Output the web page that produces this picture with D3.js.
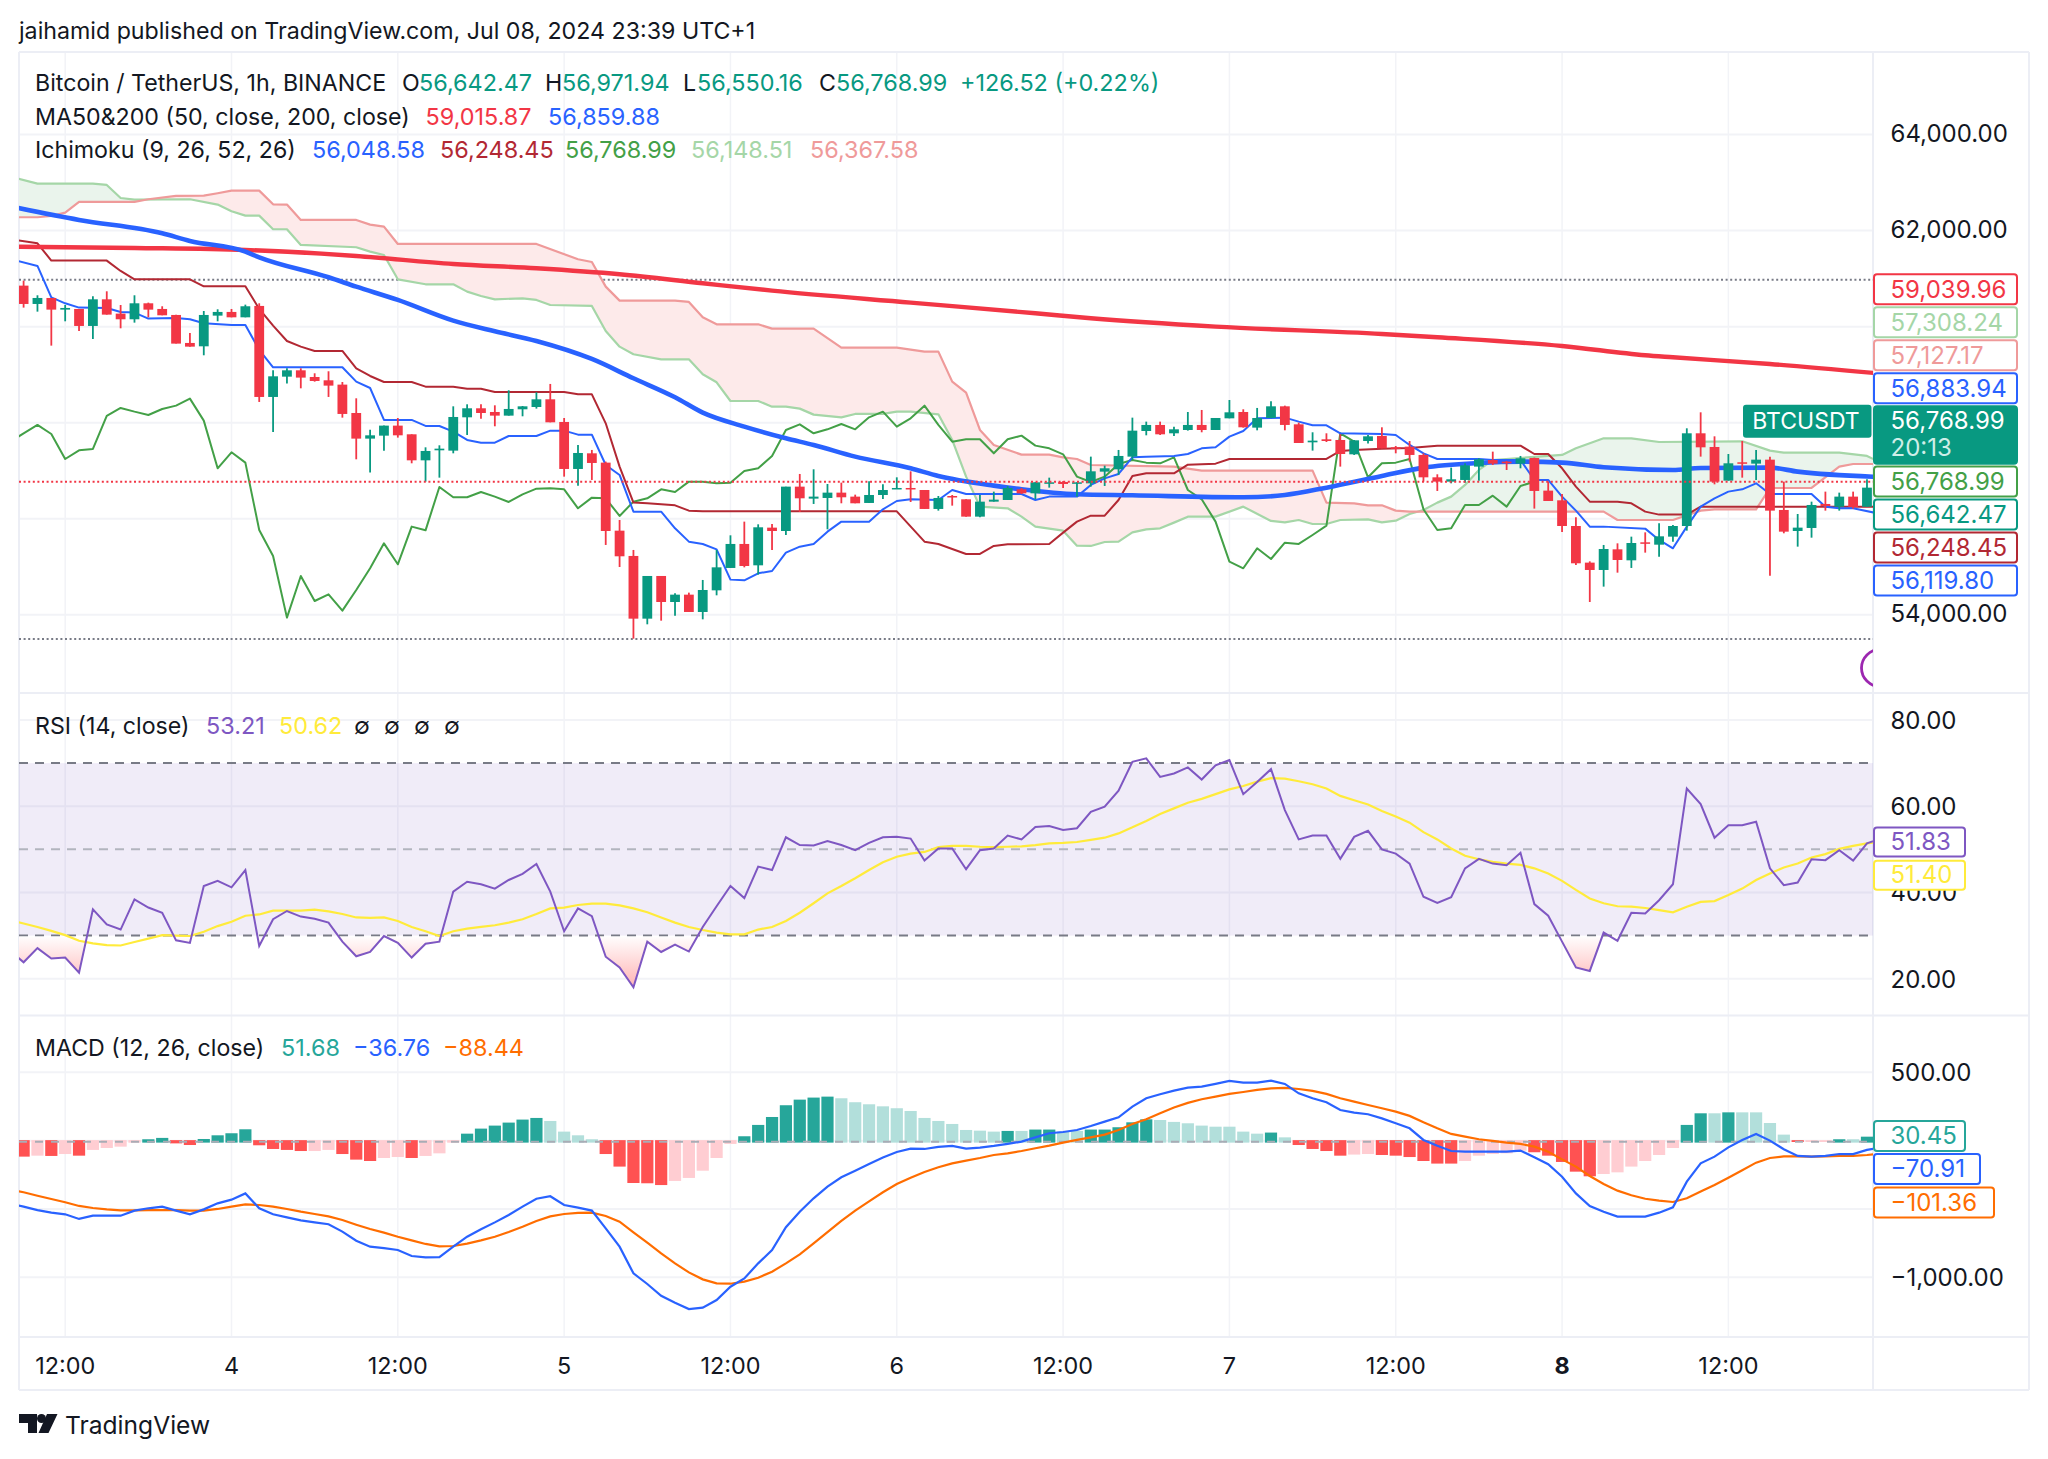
<!DOCTYPE html>
<html><head><meta charset="utf-8">
<script src="https://cdnjs.cloudflare.com/ajax/libs/d3/7.8.5/d3.min.js"></script>
<style>html,body{margin:0;padding:0;background:#fff}svg{display:block}text{font-family:Inter,"Noto Sans",sans-serif;fill:#131722}</style>
</head><body><svg id="c" width="2048" height="1459"></svg>
<script>
// ---------- candles (1h BTCUSDT), index 0 .. 133
const open=[60854,60472,60597,60354,60368,60014,60569,60271,60153,60486,
60368,60243,59660,59590,60229,60306,60194,60431,58535,58958,
59090,58951,58882,58792,58201,57667,57729,57938,57757,57215,
57424,57417,58111,58299,58222,58146,58278,58326,58486,58014,
57035,57361,57167,55750,55223,53917,54806,54264,54417,54056,
54507,54973,55473,55028,55813,55743,56667,56417,56431,56542,
56459,56327,56493,56618,56639,56597,56202,56472,56403,56042,
56354,56389,56611,56528,56736,56764,56736,56736,56979,57028,
57292,57826,57952,57778,57847,57952,57847,58090,58222,57896,
58097,58340,57965,57590,57653,57639,57340,57618,57722,57486,
57500,57327,56861,56771,56806,57084,57222,57188,57146,57264,
56584,56382,55847,55084,54931,55361,55132,55507,55458,55625,
55847,57778,57493,56792,57174,57146,57229,56181,55743,55806,
56306,56248,56459,56248];
const high=[60958,60653,60597,60451,60368,60632,60736,60451,60653,60500,
60424,60250,59868,60326,60361,60368,60458,60486,59090,59132,
59132,59028,59070,58847,58507,57854,57938,58097,57757,57486,
57528,58340,58382,58382,58361,58674,58347,58632,58806,58097,
57535,57431,57188,55972,55348,54806,54806,54445,54459,54723,
55348,55653,55938,55882,55889,56667,56931,57028,56722,56750,
56500,56778,56715,56861,56986,56597,56472,56493,56403,56493,
56563,56681,56639,56764,56854,56785,56757,57292,57104,57431,
58104,58021,58021,57917,58222,58264,58097,58472,58278,58306,
58445,58354,58000,57799,57778,57757,57639,57743,57903,57514,
57618,57361,56924,57063,57153,57257,57396,57202,57306,57271,
56771,56514,56028,55111,55452,55486,55625,55715,55903,55868,
57882,58215,57715,57347,57618,57431,57292,56771,56097,56354,
56563,56542,56563,56820];
const low=[60396,60312,59604,60111,59910,59743,60250,59965,60083,60194,
60236,59646,59583,59403,60111,60194,60194,58431,57806,58813,
58715,58854,58535,58104,57236,56959,57417,57688,57153,56771,
56854,57361,57743,58083,57924,58146,58132,58292,58007,56875,
56688,56806,55452,54993,53500,53799,53875,53979,54056,53903,
54403,54973,54986,54834,55348,55660,56139,56306,55778,56320,
56320,56327,56410,56618,56347,56202,56167,56271,56042,56028,
56354,56389,56514,56403,56646,56639,56459,56667,56681,56910,
57222,57736,57743,57722,57834,57799,57847,58090,57896,57840,
58090,57840,57576,57417,57597,57084,57327,57563,57465,57361,
57188,56771,56577,56736,56750,56792,57118,57014,57049,56209,
56368,55723,55035,54264,54584,54875,54973,55292,55208,55521,
55750,57292,56715,56792,56854,56806,54813,55695,55417,55604,
56167,56167,56209,56248];
const close=[60472,60597,60354,60389,60014,60569,60250,60153,60486,60354,
60236,59646,59583,60243,60306,60194,60424,58535,58965,59090,
58938,58868,58771,58181,57667,57736,57938,57736,57215,57410,
57458,58118,58299,58201,58146,58285,58340,58486,58007,57035,
57368,57160,55743,55216,53917,54806,54264,54417,54056,54514,
54986,55473,55014,55820,55743,56667,56424,56459,56542,56445,
56320,56493,56597,56639,56611,56202,56431,56452,56042,56354,
56396,56639,56528,56757,56757,56722,56757,56986,57049,57306,
57833,57952,57757,57861,57952,57847,58097,58215,57903,58097,
58340,57952,57576,57625,57618,57347,57632,57715,57465,57458,
57327,56861,56771,56820,57111,57236,57146,57153,57257,56577,
56368,55847,55070,54931,55368,55139,55493,55486,55632,55847,
57778,57486,56771,57153,57153,57229,56167,55729,55813,56285,
56264,56459,56243,56646];

// ---------- moving averages: vertices (bar index, price)
const ma50Bars=[-1,4,10,12,16,17,22,24,27,31,34,37,41,44,47,49,52,55,57,60,64,66,70,72,76,80,88,91,94,98,101,105,108,111,114,119,121,126,128,134];
const ma50=[62507,62222,61944,61785,61562,61444,61028,60833,60556,60125,59903,59701,59326,58924,58528,58208,57917,57674,57535,57292,57049,56889,56688,56611,56507,56486,56445,56493,56646,56889,57063,57160,57188,57167,57070,57014,57056,57063,56979,56868];
const ma200Bars=[-1,8,16,24,31,37,43,49,54,64,73,77,86,98,102,111,117,119,126,134];
const ma200=[61667,61639,61597,61472,61305,61215,61090,60903,60750,60500,60278,60174,60000,59847,59778,59597,59403,59361,59222,59021];

// ---------- Ichimoku
const tenkanBars=[-1,1,2,3,4,6,7,8,9,11,12,13,15,16,17,18,23,24,25,26,28,29,30,31,32,33,34,35,37,38,39,40,41,42,43,44,46,47,48,49,50,51,52,53,54,55,56,57,58,59,61,62,63,64,66,67,68,72,73,74,76,77,78,79,80,81,83,84,85,86,87,88,89,91,92,93,94,95,98,99,100,101,102,105,106,108,109,110,111,112,113,114,117,118,119,120,121,122,123,124,125,126,129,130,131,132,134];
const tenkan=[61410,61264,60611,60486,60396,60389,60306,60292,60167,60181,60153,60069,60035,60035,59514,59153,59153,58854,58722,58056,58056,57931,57931,57813,57639,57583,57583,57722,57722,57833,57833,57750,57750,57118,56910,56146,56146,55799,55521,55473,55361,54730,54716,54861,54910,55292,55417,55473,55729,55938,55938,56195,56368,56403,56389,56597,56514,56514,56389,56459,56459,56702,56840,56931,57278,57292,57306,57347,57465,57486,57708,57826,58090,58104,58021,57945,57945,57778,57764,57743,57535,57361,57243,57243,57222,57222,56806,56806,56459,56167,55834,55834,55792,55556,55382,55834,56250,56424,56563,56611,56736,56514,56514,56250,56216,56216,56097];
const kijunBars=[-1,1,2,6,7,8,12,13,16,17,18,19,20,21,23,24,25,26,28,29,31,32,33,34,39,40,41,42,43,44,45,47,48,49,63,65,66,68,69,70,71,74,75,76,77,78,79,80,81,83,84,86,87,94,95,96,98,100,102,108,109,110,111,112,113,115,116,117,118,120,121,134];
const kijun=[61826,61736,61375,61375,61160,60986,60986,60840,60840,60368,60021,59701,59583,59493,59493,59132,58972,58847,58847,58750,58750,58708,58708,58639,58639,58590,58590,57986,57084,56334,56320,56278,56167,56153,56153,55521,55473,55264,55264,55431,55466,55473,55709,55938,56063,56063,56389,56889,56945,56945,57125,57146,57243,57243,57410,57431,57458,57472,57521,57521,57347,57347,57049,56667,56354,56354,56320,56146,56084,56084,56250,56250];
// lagging span, one value per bar from index -1 to 109
const chikou=[57590,57778,57952,57764,57243,57424,57452,58139,58306,58229,58160,58285,58354,58500,58042,57049,57382,57167,55764,55223,53938,54806,54285,54424,54084,54514,54966,55486,55049,55834,55757,56660,56445,56445,56556,56459,56347,56507,56625,56632,56611,56216,56438,56424,56056,56354,56424,56611,56556,56771,56771,56736,56750,56993,57049,57306,57847,57965,57778,57861,57972,57861,58111,58229,57917,58090,58354,57952,57604,57653,57653,57361,57653,57729,57521,57465,57340,56875,56764,56875,57139,57222,57167,57153,57278,56597,56403,55938,55104,54966,55382,55160,55500,55473,55660,55854,57778,57604,56861,57153,57167,57243,56195,55764,55799,56285,56285,56479,56250,56681,56769];
const spanABars=[-1,1,5,6,7,8,12,14,15,16,17,18,19,20,24,25,26,27,29,31,32,33,34,36,37,38,41,42,43,44,46,48,49,50,51,53,54,55,56,57,59,60,62,63,64,66,67,68,69,71,72,73,75,76,77,78,79,80,81,82,83,84,86,88,90,91,92,93,94,95,97,98,99,100,101,102,103,104,105,106,110,111,112,114,116,118,124,126,127,131,133,134];
const spanA=[63125,62979,62979,62951,62680,62646,62653,62542,62403,62312,62312,62028,62028,61701,61653,61562,61493,60986,60882,60882,60729,60639,60569,60590,60556,60451,60431,59910,59583,59424,59319,59319,59007,58840,58451,58451,58333,58333,58292,58167,58111,58181,58181,58229,58229,58174,57639,56875,56250,56216,56042,55834,55750,55438,55431,55514,55521,55715,55778,55799,55917,56042,56042,56250,55952,55924,55972,55889,55889,55972,55986,55924,55958,56097,56181,56334,56459,56702,57014,57222,57306,57327,57465,57674,57674,57597,57611,57417,57375,57375,57306,57167];
const spanBBars=[-1,1,2,3,4,8,9,11,13,14,15,17,18,19,20,24,25,26,27,37,40,41,42,43,47,48,49,50,53,54,57,59,63,65,66,67,68,69,70,72,74,75,76,77,83,85,93,94,96,97,98,99,100,114,115,119,121,122,125,126,129,131,132,134];
const spanB=[62278,62278,62305,62375,62597,62597,62653,62722,62729,62778,62833,62833,62548,62542,62222,62222,62125,62083,61722,61722,61403,61347,60833,60542,60542,60514,60194,60049,60049,59958,59958,59563,59563,59479,59479,58854,58625,57847,57535,57333,57333,57278,57243,57118,57084,57000,57000,56334,56320,56278,56278,56167,56146,56146,55972,55972,56167,56195,56195,56639,56639,57084,57139,57139];

// ---------- RSI, one value per bar from index -1 to 134
const rsi=[26.6,23.8,27.1,24.7,24.9,21.4,36.1,32.6,31.4,38.4,36.5,35.3,28.9,28.3,41.5,42.7,41.2,45.2,27.6,33.8,35.7,34.4,33.9,33.0,28.6,25.2,26.2,29.9,28.3,24.9,28.1,28.6,40.2,42.5,41.9,40.9,42.9,44.3,46.6,40.2,31.0,36.3,34.5,25.1,22.6,18.0,28.6,26.2,27.9,26.3,32.0,36.8,41.5,38.7,46.0,45.2,52.8,51.0,50.9,51.9,51.0,49.8,51.5,52.8,52.9,52.5,47.4,50.2,50.2,45.4,49.8,50.2,53.2,52.3,55.2,55.4,54.5,54.9,58.7,59.9,63.6,70.3,71.1,66.8,67.6,69.0,66.2,69.5,70.7,62.8,65.6,68.6,59.1,52.3,53.2,53.2,47.8,52.9,54.3,50.0,49.0,46.7,39.0,37.6,38.9,45.6,47.8,46.7,46.3,49.2,37.3,34.6,28.6,22.6,21.8,30.7,28.8,35.3,35.1,38.2,41.9,64.1,60.5,52.7,55.6,55.6,56.4,45.6,41.7,42.3,47.7,47.5,49.8,47.4,51.4,52.5];
const rsiMa=[33.6,32.8,32.0,31.1,30.1,28.8,28.2,27.8,27.7,28.5,29.3,30.1,30.0,29.9,30.9,32.2,33.2,34.6,34.9,35.8,35.8,35.8,36.0,35.6,35.0,34.2,34.1,34.2,33.4,32.0,31.0,29.9,31.0,31.6,32.0,32.4,33.0,33.8,35.0,36.3,36.5,37.1,37.4,37.4,37.0,36.3,35.4,34.2,33.0,32.0,31.3,30.7,30.3,30.3,31.4,32.0,33.4,35.3,37.5,39.8,41.5,43.3,45.2,47.0,48.3,49.0,49.4,50.5,50.8,50.8,50.6,50.5,50.6,50.7,51.0,51.4,51.5,51.7,52.2,52.7,53.7,55.1,56.6,58.2,59.5,60.8,61.7,62.8,63.9,64.7,65.7,66.5,66.4,65.8,65.1,64.1,62.4,61.4,60.4,58.9,57.6,56.2,54.0,52.3,50.2,48.5,47.7,47.1,46.7,46.4,45.6,44.4,42.7,40.6,38.6,37.5,36.8,36.7,36.4,35.9,35.4,36.7,37.8,38.0,39.4,40.9,42.9,44.4,45.8,46.7,48.1,48.9,50.1,50.8,51.4,51.7];
const rsiLevels=[70,50,30];
const rsiTicks=[80,60,40,20];

// ---------- MACD, lines per bar from index -1 to 134; histogram per bar from 0 to 133
const macdLine=[-459,-483,-508,-527,-539,-573,-549,-549,-549,-512,-495,-483,-512,-539,-503,-459,-432,-386,-495,-539,-561,-583,-598,-612,-666,-732,-776,-786,-800,-844,-854,-852,-776,-703,-649,-598,-544,-483,-425,-407,-471,-490,-512,-642,-776,-971,-1049,-1135,-1186,-1232,-1222,-1166,-1069,-1008,-898,-800,-634,-520,-422,-337,-268,-220,-171,-124,-83,-59,-61,-46,-39,-59,-51,-39,-24,-7,24,54,63,78,107,139,171,249,310,339,366,388,395,415,437,425,425,439,415,346,310,281,224,205,193,163,127,90,5,-37,-76,-81,-81,-81,-81,-73,-122,-173,-264,-386,-478,-520,-556,-556,-556,-527,-488,-300,-166,-117,-49,5,49,0,-63,-112,-117,-112,-98,-98,-68,-49];
const macdSignal=[-356,-378,-403,-427,-451,-478,-493,-503,-510,-510,-508,-508,-508,-512,-512,-500,-483,-466,-471,-483,-500,-520,-537,-554,-581,-615,-647,-673,-703,-730,-756,-773,-771,-754,-730,-703,-669,-630,-588,-554,-537,-529,-527,-551,-593,-671,-747,-825,-898,-964,-1015,-1044,-1047,-1032,-1003,-959,-898,-832,-752,-669,-588,-512,-444,-378,-317,-271,-229,-195,-166,-146,-127,-105,-93,-76,-56,-37,-15,5,24,44,78,122,156,200,242,276,303,322,342,356,371,383,386,378,364,342,310,285,261,237,212,181,134,90,49,29,10,-2,-15,-24,-44,-81,-137,-190,-259,-317,-366,-400,-425,-439,-449,-422,-373,-325,-271,-217,-161,-127,-115,-115,-117,-115,-112,-112,-105,-93];
const histValues=[-117,-110,-112,-98,-110,-68,-54,-44,-15,10,20,-20,-32,12,39,54,83,-34,-61,-68,-76,-76,-68,-98,-139,-149,-127,-120,-127,-112,-93,-15,51,88,110,132,154,166,144,66,39,10,-98,-190,-310,-312,-325,-295,-273,-220,-127,-24,32,115,173,259,300,315,322,310,281,266,251,237,217,166,144,122,78,73,66,71,71,81,81,66,71,81,81,98,134,156,151,137,127,110,102,102,66,51,59,24,-32,-61,-76,-110,-102,-98,-105,-110,-120,-149,-168,-168,-149,-110,-98,-93,-73,-85,-110,-156,-227,-261,-244,-232,-190,-149,-105,-54,115,200,200,207,207,207,129,44,-10,-10,-10,10,10,29];
// 1 = bar grew in the direction of its sign, 0 = it shrank
const histGrowing=[1,0,1,0,1,0,0,0,0,1,1,1,1,1,1,1,1,1,1,1,1,0,0,1,1,1,0,0,1,0,0,0,1,1,1,1,1,1,0,0,0,0,1,1,1,1,1,0,0,0,0,0,1,1,1,1,1,1,1,0,0,0,0,0,0,0,0,0,0,0,0,1,0,1,1,0,0,1,1,1,1,1,0,0,0,0,0,0,0,0,1,0,1,1,1,1,0,0,1,1,1,1,1,1,0,0,0,0,0,1,1,1,1,1,0,0,0,0,0,0,1,1,0,1,0,0,0,0,1,0,0,1,0,1];

// ---------- axis ticks and labels
const priceGrid=[64000,62000,60000,58000,56000,54000];
const priceLabels=[64000,62000,54000];
const macdTicks=[500,-1000];
const macdGrid=[500,0,-500,-1000];
const timeBars=[3,15,27,39,51,63,75,87,99,111,123];
const timeLabels=["12:00","4","12:00","5","12:00","6","12:00","7","12:00","8","12:00"];
const sessionHigh=60979, sessionLow=53493, lastPrice=56768.99;
const mainTagValues=["59,039.96","57,308.24","57,127.17","56,883.94","BTC","56,768.99","56,642.47","56,248.45","56,119.80"];
const mainTagColors=["#f23645","#a5d6a7","#ef9a9a","#2962ff","#089981","#43a047","#089981","#b22833","#2962ff"];

// ---------- layout
const L=19,R=1873,EDGE=2029;
const svg=d3.select("#c");
const x=d3.scaleLinear().domain([0,133]).range([23.6,23.6+133*13.86]);
const yMain=d3.scaleLinear().domain([54000,64000]).range([614.67,134.6]);
const yRsi=d3.scaleLinear().domain([20,80]).range([978.7,720]);
const yMacd=d3.scaleLinear().domain([-1000,500]).range([1277.3,1072.3]);
const GRID="#f2f3f7",FRAME="#eceef5",FS=23.4,AXFS=24;
const zip=(a,b)=>a.map((d,i)=>[d,b[i]]);
const seq=(v,from)=>v.map((d,i)=>[from+i,d]);
const defs=svg.append("defs");
function clip(id,y0,y1){defs.append("clipPath").attr("id",id).append("rect").attr("x",L).attr("y",y0).attr("width",R-L).attr("height",y1-y0);}
clip("cMain",53,693);clip("cRsi",694,1015);clip("cMacd",1016,1337);
const lineFn=y=>d3.line().x(d=>x(d[0])).y(d=>y(d[1]));
function hgrid(vals,y){svg.append("g").selectAll("line").data(vals).join("line").attr("x1",L).attr("x2",R).attr("y1",d=>y(d)).attr("y2",d=>y(d)).attr("stroke",GRID).attr("stroke-width",2);}

// frame and vertical grid
svg.append("g").selectAll("line").data(timeBars).join("line").attr("x1",d=>x(d)).attr("x2",d=>x(d)).attr("y1",52).attr("y2",1337).attr("stroke",GRID).attr("stroke-width",1.5);
hgrid(priceGrid,yMain);hgrid(rsiTicks,yRsi);hgrid(macdGrid,yMacd);
[[L,52,EDGE,52],[L,693,EDGE,693],[L,1015.5,EDGE,1015.5],[L,1337,EDGE,1337],[L,1390,EDGE,1390],[L,52,L,1390],[R,52,R,1390],[EDGE,52,EDGE,1390]].forEach(s=>
 svg.append("line").attr("x1",s[0]).attr("y1",s[1]).attr("x2",s[2]).attr("y2",s[3]).attr("stroke",FRAME).attr("stroke-width",2));

// ---------- main pane
const gMain=svg.append("g").attr("clip-path","url(#cMain)");
[sessionHigh,sessionLow].forEach(p=>gMain.append("line").attr("x1",L).attr("x2",R).attr("y1",yMain(p)).attr("y2",yMain(p)).attr("stroke","#787b86").attr("stroke-width",2).attr("stroke-dasharray","2 2.6"));
const aPts=zip(spanABars,spanA),bPts=zip(spanBBars,spanB);
const cloudPath=lineFn(yMain)(aPts)+"L"+lineFn(yMain)(bPts.slice().reverse()).slice(1);
defs.append("clipPath").attr("id","aboveA").append("path").attr("d",d3.area().x(d=>x(d[0])).y0(53).y1(d=>yMain(d[1]))(aPts));
defs.append("clipPath").attr("id","belowA").append("path").attr("d",d3.area().x(d=>x(d[0])).y0(693).y1(d=>yMain(d[1]))(aPts));
gMain.append("g").attr("clip-path","url(#aboveA)").append("path").attr("d",cloudPath).attr("fill","#fdeaea");
gMain.append("g").attr("clip-path","url(#belowA)").append("path").attr("d",cloudPath).attr("fill","#eaf4ec");
const drawMain=(pts,col,w,curve)=>gMain.append("path").attr("d",(curve?lineFn(yMain).curve(d3.curveMonotoneX):lineFn(yMain))(pts)).attr("fill","none").attr("stroke",col).attr("stroke-width",w).attr("stroke-linejoin","round");
drawMain(aPts,"#a5d6a7",2.2);
drawMain(bPts,"#ef9a9a",2.2);
drawMain(seq(chikou,-1),"#43a047",2);
drawMain(zip(kijunBars,kijun),"#b22833",2);
drawMain(zip(tenkanBars,tenkan),"#2962ff",2);
drawMain(zip(ma200Bars,ma200),"#f23645",4.4,true);
drawMain(zip(ma50Bars,ma50),"#2962ff",4.6,true);
// candles
const cIdx=d3.range(open.length),up=i=>close[i]>=open[i];
const cCol=i=>up(i)?"#089981":"#f23645";
gMain.append("g").selectAll("line").data(cIdx).join("line").attr("x1",i=>x(i)).attr("x2",i=>x(i)).attr("y1",i=>yMain(high[i])).attr("y2",i=>yMain(low[i])).attr("stroke",cCol).attr("stroke-width",1.8);
gMain.append("g").selectAll("rect").data(cIdx).join("rect").attr("x",i=>x(i)-4.9).attr("width",9.8)
 .attr("y",i=>yMain(Math.max(open[i],close[i]))).attr("height",i=>Math.max(1.5,Math.abs(yMain(open[i])-yMain(close[i])))).attr("fill",cCol);
gMain.append("line").attr("x1",L).attr("x2",R).attr("y1",yMain(lastPrice)).attr("y2",yMain(lastPrice)).attr("stroke","#f23645").attr("stroke-width",2).attr("stroke-dasharray","2 2.6");
gMain.append("circle").attr("cx",1880).attr("cy",668).attr("r",18.5).attr("fill","none").attr("stroke","#9c27b0").attr("stroke-width",2.8);

// ---------- RSI pane
const gRsi=svg.append("g").attr("clip-path","url(#cRsi)");
gRsi.append("rect").attr("x",L).attr("width",R-L).attr("y",yRsi(70)).attr("height",yRsi(30)-yRsi(70)).attr("fill","#7e57c2").attr("opacity",0.115);
rsiLevels.forEach(l=>gRsi.append("line").attr("x1",L).attr("x2",R).attr("y1",yRsi(l)).attr("y2",yRsi(l)).attr("stroke",l===50?"#b2b5be":"#787b86").attr("stroke-width",2).attr("stroke-dasharray","9 7"));
const grad=defs.append("linearGradient").attr("id","os").attr("gradientUnits","userSpaceOnUse").attr("x1",0).attr("x2",0).attr("y1",yRsi(30)).attr("y2",yRsi(18));
grad.append("stop").attr("offset",0).attr("stop-color","#fff");grad.append("stop").attr("offset",1).attr("stop-color","#ffb3b3");
function clipRect(id,a,b){defs.append("clipPath").attr("id",id).append("rect").attr("x",L).attr("y",a).attr("width",R-L).attr("height",b-a);}
clipRect("cOs",yRsi(30)+1,1015);
const rsiPts=seq(rsi,-1);
gRsi.append("g").attr("clip-path","url(#cOs)").append("path").attr("d",d3.area().x(d=>x(d[0])).y0(yRsi(30)).y1(d=>yRsi(d[1]))(rsiPts)).attr("fill","url(#os)");
gRsi.append("path").attr("d",lineFn(yRsi)(seq(rsiMa,-1))).attr("fill","none").attr("stroke","#ffeb3b").attr("stroke-width",2.2);
gRsi.append("path").attr("d",lineFn(yRsi)(rsiPts)).attr("fill","none").attr("stroke","#7e57c2").attr("stroke-width",2);

// ---------- MACD pane
const gMacd=svg.append("g").attr("clip-path","url(#cMacd)");
const y0=yMacd(0);
const hCol=i=>histValues[i]>=0?(histGrowing[i]?"#26a69a":"#b2dfdb"):(histGrowing[i]?"#ff5252":"#ffcdd2");
gMacd.append("g").selectAll("rect").data(d3.range(histValues.length)).join("rect")
 .attr("x",i=>x(i)-6.1).attr("width",12.2)
 .attr("y",i=>Math.min(yMacd(histValues[i]),y0-0.5)).attr("height",i=>Math.abs(yMacd(histValues[i])-y0)+(histValues[i]>=0?2:0.5)).attr("fill",hCol);
gMacd.append("line").attr("x1",L).attr("x2",R).attr("y1",y0+1).attr("y2",y0+1).attr("stroke","#a9acb5").attr("stroke-width",2).attr("stroke-dasharray","8 8");
gMacd.append("path").attr("d",lineFn(yMacd)(seq(macdSignal,-1))).attr("fill","none").attr("stroke","#ff6d00").attr("stroke-width",2.2);
gMacd.append("path").attr("d",lineFn(yMacd)(seq(macdLine,-1))).attr("fill","none").attr("stroke","#2962ff").attr("stroke-width",2.2);

// ---------- axes
function rightAxis(y,ticks,dy){
 const g=svg.append("g").attr("transform",`translate(${R},0)`).call(d3.axisRight(y).tickValues(ticks).tickFormat(d3.format(",.2f")).tickSize(0).tickPadding(17.5).offset(0));
 g.select(".domain").remove();
 g.selectAll("text").attr("dy",dy).style("font-size",AXFS+"px").style("font-family","Inter").style("fill","#131722");
}
rightAxis(yMain,priceLabels,"0.32em");rightAxis(yRsi,rsiTicks,"0.37em");rightAxis(yMacd,macdTicks,"0.36em");
const gTime=svg.append("g").attr("transform","translate(0,1337)").call(d3.axisBottom(x).tickValues(timeBars).tickFormat((d,i)=>timeLabels[i]).tickSize(0).tickPadding(20).offset(0));
gTime.select(".domain").remove();
gTime.selectAll("text").style("font-size",FS+"px").style("font-family","Inter").style("fill","#131722").style("font-weight",(d,i)=>timeLabels[i]==="8"?700:400);

// ---------- value tags
function tag(tagY,h,right,col,lines,filled){
 svg.append("rect").attr("x",R+1).attr("y",tagY+1).attr("width",right-R-2).attr("height",h-2).attr("rx",3).attr("fill",filled?col:"#fff").attr("stroke",col).attr("stroke-width",2);
 lines.forEach(l=>svg.append("text").attr("x",R+17.5).attr("y",l.y).attr("dy","0.35em").style("font-size",AXFS+"px").style("fill",l.c||col).text(l.t));
}
const TAGR=2018;let tagY=273.3;
mainTagValues.forEach((t,i)=>{
 if(t==="BTC"){
  tag(tagY,59.5,TAGR,mainTagColors[i],[{t:"56,768.99",y:tagY+15,c:"#fff"},{t:"20:13",y:tagY+42,c:"#cfeee8"}],true);
  svg.append("rect").attr("x",1743).attr("y",tagY-0.5).attr("width",128.5).attr("height",33).attr("rx",3).attr("fill",mainTagColors[i]);
  svg.append("text").attr("x",1806).attr("y",tagY+15.5).attr("dy","0.35em").attr("text-anchor","middle").style("font-size","23px").style("fill","#fff").text("BTCUSDT");
  tagY+=60.2;
 } else { tag(tagY,32,TAGR,mainTagColors[i],[{t:t,y:tagY+16}],false); tagY+=33; }
});
tag(826.5,31,1966,"#7e57c2",[{t:"51.83",y:842}]);
tag(859.7,31,1966,"#ffeb3b",[{t:"51.40",y:875}]);
tag(1120,32,1966,"#26a69a",[{t:"30.45",y:1136}]);
tag(1153,32,1981,"#2962ff",[{t:"\u221270.91",y:1169}]);
tag(1186.5,32,1995,"#ff6d00",[{t:"\u2212101.36",y:1202.5}]);

// ---------- legends
function legend(y,items){items.forEach(it=>svg.append("text").attr("x",it[0]).attr("y",y).attr("dy","0.35em").style("font-size",(it[2]?FS:23.2)+"px").style("fill",it[2]||"#131722").text(it[1]));}
legend(31,[[19,"jaihamid published on TradingView.com, Jul 08, 2024 23:39 UTC+1"]]);
const G="#089981";
legend(83,[[35,"Bitcoin / TetherUS, 1h, BINANCE"],[402,"O"],[419,"56,642.47",G],[545,"H"],[562,"56,971.94",G],[683,"L"],[697,"56,550.16",G],[819,"C"],[836,"56,768.99",G],[960,"+126.52 (+0.22%)",G]]);
legend(117,[[35,"MA50&200 (50, close, 200, close)"],[425.5,"59,015.87","#f23645"],[548,"56,859.88","#2962ff"]]);
legend(150,[[35,"Ichimoku (9, 26, 52, 26)"],[312,"56,048.58","#2962ff"],[440,"56,248.45","#b22833"],[565,"56,768.99","#43a047"],[691,"56,148.51","#a5d6a7"],[810,"56,367.58","#ef9a9a"]]);
legend(726,[[35,"RSI (14, close)"],[206,"53.21","#7e57c2"],[279,"50.62","#ffeb3b"],[354,"\u2205"],[384,"\u2205"],[414,"\u2205"],[444,"\u2205"]]);
legend(1048,[[35,"MACD (12, 26, close)"],[281,"51.68","#26a69a"],[353,"\u221236.76","#2962ff"],[443,"\u221288.44","#ff6d00"]]);

// ---------- footer mark
svg.append("path").attr("d","M19 1414H37V1433H28V1423H19Z M47 1414H57.5L48.5 1433H38.5Z").attr("fill","#131722");
svg.append("circle").attr("cx",41.5).attr("cy",1418.5).attr("r",4.5).attr("fill","#131722");
svg.append("text").attr("x",65).attr("y",1425).attr("dy","0.35em").style("font-size","24.6px").text("TradingView");
</script></body></html>
